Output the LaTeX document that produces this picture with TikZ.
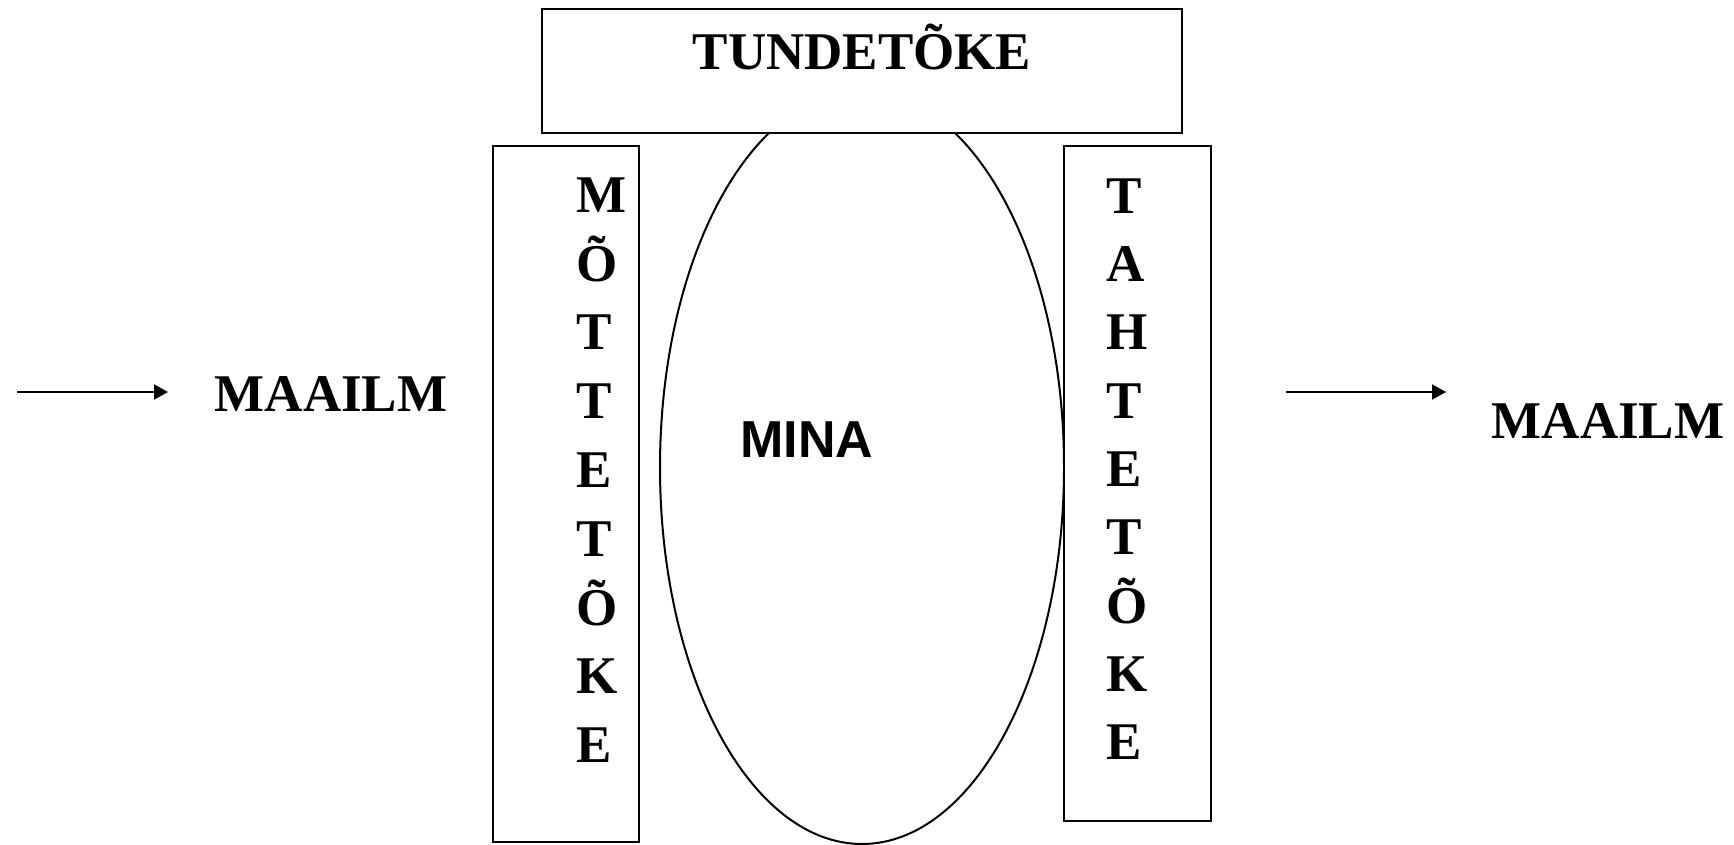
\documentclass[tikz,border=0pt]{standalone}
\usepackage{fontspec}
\setmainfont{Liberation Serif}
\newfontfamily\arialfont{Liberation Sans}
\usetikzlibrary{arrows.meta}

\tikzset{
  tahed/.style={font=\bfseries\fontsize{26.5}{30}\selectfont, inner sep=0pt},
  minakiri/.style={font=\arialfont\bfseries\fontsize{26}{30}\selectfont, inner sep=0pt},
  kast/.style={draw, line width=1pt, fill=white},
  nool/.style={-{Triangle[length=7pt,width=7.5pt]}, line width=1pt}
}

\begin{document}
\begin{tikzpicture}[x=0.5pt, y=-0.5pt]
\useasboundingbox (0,0) rectangle (1734,845);
% mina
\draw [line width=1pt] (862,467.4) ellipse [x radius=101pt, y radius=188.3pt];
\node [minakiri, anchor=base] (mina) at (807,457.5) {MINA};
% tundetoke
\draw [kast] (542,9) rectangle (1182,133);
\node [tahed, anchor=base] (tunde) at (862,70) {TUNDETÕKE};
% mottetoke
\draw [kast] (493,146) rectangle (639,842);
\foreach \taht [count=\i] in {M,Õ,T,T,E,T,Õ,K,E}
  \node [tahed, anchor=base west] (motte-\i) at (576,{212.5+68.75*(\i-1)}) {\taht};
% tahtetoke
\draw [kast] (1064,146) rectangle (1211,821);
\foreach \taht [count=\i] in {T,A,H,T,E,T,Õ,K,E}
  \node [tahed, anchor=base west] (tahte-\i) at (1106,{213.5+68.25*(\i-1)}) {\taht};
% maailm
\node [tahed, anchor=base] (maailm-sisse) at (331,411) {MAAILM};
\node [tahed, anchor=base] (maailm-valja) at (1608,438) {MAAILM};
\coordinate (sisse-algus) at (17,392);
\coordinate (sisse-ots) at (168,392);
\coordinate (valja-algus) at (1286,392);
\coordinate (valja-ots) at (1446,392);
\draw [nool] (sisse-algus) -- (sisse-ots);
\draw [nool] (valja-algus) -- (valja-ots);
\end{tikzpicture}
\end{document}
